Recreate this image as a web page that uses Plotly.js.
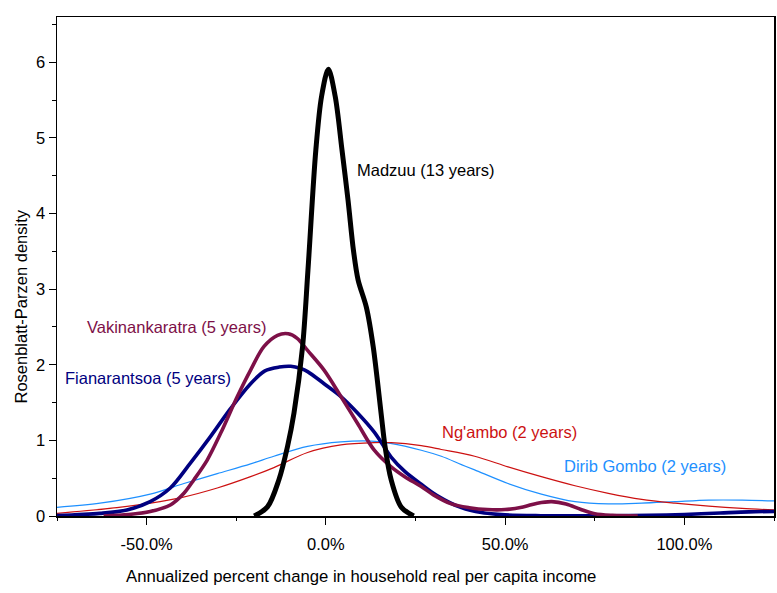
<!DOCTYPE html>
<html>
<head>
<meta charset="utf-8">
<script src="https://cdn.plot.ly/plotly-3.0.1.min.js"></script>
<style>html,body{margin:0;padding:0;background:#fff;}#chart{width:777px;height:593px;}</style>
</head>
<body>
<div id="chart"></div>
<script>
// Annualized percent change (x, %) and Rosenblatt-Parzen density (y)
const madzuuX = [-20, -16.3, -13.1, -10.7, -8.9, -6.5, -5.0, -2.8, -1.2, 0.7, 2.6, 4.5, 6.2, 7.7, 9.0, 11.3, 13.2, 15.4, 16.5, 18.2, 21, 24.5];
const madzuuY = [0, 0.12, 0.48, 0.92, 1.36, 2.24, 3.25, 4.84, 5.55, 5.91, 5.55, 4.84, 4.17, 3.51, 3.12, 2.76, 2.24, 1.36, 0.92, 0.48, 0.12, 0];

const vakinX = [-62, -55, -49, -43.4, -39.6, -36.8, -33.1, -29.4, -24.7, -21, -17.3, -13.5, -10.5, -8, -5.1, -0.5, 4.2, 8.9, 13.5, 18.2, 22, 26.6, 30, 35, 40, 45, 50, 55, 59, 63, 67, 71, 75, 80, 87];
const vakinY = [0, 0.02, 0.06, 0.145, 0.30, 0.48, 0.74, 1.09, 1.58, 1.93, 2.24, 2.39, 2.41, 2.35, 2.19, 1.93, 1.58, 1.22, 0.87, 0.65, 0.52, 0.39, 0.28, 0.16, 0.11, 0.085, 0.085, 0.12, 0.17, 0.19, 0.16, 0.09, 0.03, 0.008, 0];

const fianaX = [-75, -63, -55.5, -49, -43.4, -37.8, -32.2, -26.6, -21, -17, -13, -9.8, -7, -5.1, -0.5, 4.2, 8.9, 13.5, 18.2, 22, 26.6, 31, 37.8, 43.4, 50, 60, 70, 80, 90, 100, 110, 118, 125];
const fianaY = [0.005, 0.035, 0.08, 0.19, 0.37, 0.70, 1.05, 1.42, 1.75, 1.92, 1.97, 1.98, 1.95, 1.91, 1.75, 1.58, 1.36, 1.11, 0.78, 0.59, 0.42, 0.27, 0.11, 0.045, 0.015, 0.004, 0.002, 0.003, 0.008, 0.02, 0.04, 0.055, 0.06];

const ngamboX = [-75, -58.3, -49, -40.6, -30.3, -21, -14.5, -5.1, 4.2, 13.5, 18.2, 26.6, 32.2, 41.5, 50.8, 60.1, 69.5, 78.8, 88.1, 97.4, 106.8, 116.1, 125];
const ngamboY = [0.035, 0.11, 0.17, 0.24, 0.37, 0.52, 0.64, 0.84, 0.94, 0.97, 0.97, 0.93, 0.88, 0.79, 0.65, 0.52, 0.40, 0.30, 0.22, 0.17, 0.13, 0.10, 0.08];

const diribX = [-75, -63, -49, -39.6, -30.3, -21, -14.5, -5.1, 4.2, 12.6, 18, 26.6, 32.2, 37.8, 41.5, 50.8, 60.1, 69.5, 78.8, 88.1, 97.4, 106.8, 116.1, 125];
const diribY = [0.115, 0.17, 0.29, 0.43, 0.56, 0.69, 0.79, 0.92, 0.98, 0.99, 0.96, 0.87, 0.79, 0.68, 0.61, 0.43, 0.29, 0.19, 0.16, 0.17, 0.19, 0.21, 0.21, 0.20];

const seriesNames = ["Dirib Gombo (2 years)", "Ng'ambo (2 years)", "Fianarantsoa (5 years)", "Vakinankaratra (5 years)", "Madzuu (13 years)"];
const xTickVals = [-50, 0, 50, 100];
const xTickText = ["-50.0%", "0.0%", "50.0%", "100.0%"];
const xTitle = "Annualized percent change in household real per capita income";
const yTitle = "Rosenblatt-Parzen density";

const FONT = "Liberation Sans, Arial, Helvetica, sans-serif";
const colors = ["#1e90ff", "#cc1111", "#000080", "#7d1048", "#000000"];
const widths = [1.2, 1.2, 3.6, 3.6, 5];
const xs = [diribX, ngamboX, fianaX, vakinX, madzuuX];
const ys = [diribY, ngamboY, fianaY, vakinY, madzuuY];

const traces = xs.map((x, i) => ({
  x: x, y: ys[i], name: seriesNames[i], type: 'scatter', mode: 'lines',
  line: {color: colors[i], width: widths[i], shape: 'spline', smoothing: 0.9},
  hoverinfo: 'x+y+name'
}));

const labelPos = [
  {x: 66.0, y: 0.665}, {x: 31.8, y: 1.105}, {x: -73.2, y: 1.83}, {x: -67.3, y: 2.50}, {x: 8.2, y: 4.57}
];
const annotations = seriesNames.map((t, i) => ({
  text: t, x: labelPos[i].x, y: labelPos[i].y, xref: 'x', yref: 'y',
  xanchor: 'left', yanchor: 'middle', showarrow: false,
  font: {family: FONT, size: 16.5, color: colors[i]}
}));
annotations.push({
  text: xTitle, xref: 'paper', yref: 'paper', x: 0.424, y: -0.1222,
  xanchor: 'center', yanchor: 'middle', showarrow: false,
  font: {family: FONT, size: 16.7, color: '#000'}
});
annotations.push({
  text: yTitle, xref: 'paper', yref: 'paper', x: -0.0502, y: 0.4198,
  xanchor: 'center', yanchor: 'middle', showarrow: false, textangle: -90,
  font: {family: FONT, size: 16.5, color: '#000'}
});

const layout = {
  width: 777, height: 593,
  margin: {l: 57, r: 3, t: 17, b: 77},
  paper_bgcolor: '#fff', plot_bgcolor: '#fff',
  showlegend: false,
  font: {family: FONT, size: 16, color: '#000'},
  xaxis: {
    range: [-75, 125], showgrid: false, zeroline: false,
    showline: true, linecolor: '#000', linewidth: 1.5, mirror: true,
    ticks: 'outside', ticklen: 7, tickwidth: 1, tickcolor: '#000',
    tickvals: xTickVals, ticktext: xTickText, ticklabelstandoff: 6,
    tickfont: {family: FONT, size: 16.5, color: '#000'},
    minor: {tick0: 0, dtick: 25, ticks: 'outside', ticklen: 3, tickcolor: '#000', tickwidth: 1, showgrid: false}
  },
  yaxis: {
    range: [0, 6.6], showgrid: false, zeroline: false,
    showline: true, linecolor: '#000', linewidth: 1.5, mirror: true,
    ticks: 'outside', ticklen: 7, tickwidth: 1, tickcolor: '#000',
    tick0: 0, dtick: 1,
    tickfont: {family: FONT, size: 16.5, color: '#000'},
    minor: {tick0: 0, dtick: 0.5, ticks: 'outside', ticklen: 4, tickcolor: '#000', tickwidth: 1, showgrid: false}
  },
  annotations: annotations
};

Plotly.newPlot('chart', traces, layout, {displayModeBar: false, staticPlot: true});
</script>
</body>
</html>
